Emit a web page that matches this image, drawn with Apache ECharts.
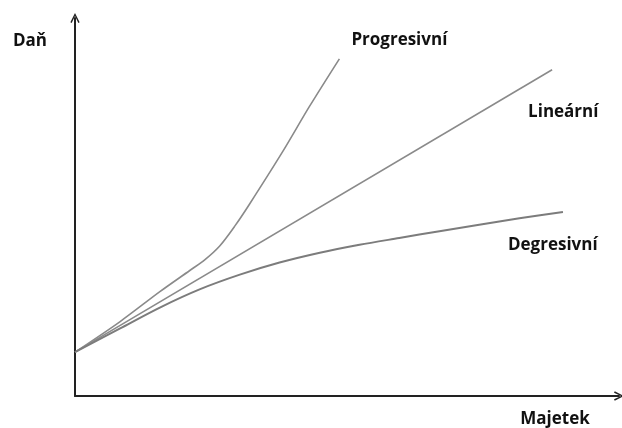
<!DOCTYPE html>
<html>
<head>
<meta charset="utf-8">
<script src="https://cdn.jsdelivr.net/npm/echarts@6/dist/echarts.min.js"></script>
<style>
html,body{margin:0;padding:0;background:#fff;}
#chart{width:622px;height:428px;}
</style>
</head>
<body>
<div id="chart"></div>
<script>
// Data (arbitrary units: Majetek 0-100, Daň 0-100)
const seriesNames = ['Progresivní', 'Lineární', 'Degresivní'];
const axisNames = ['Majetek', 'Daň'];

const majetekProg = [0, 8.3, 15.6, 21.1, 23.9, 26.6, 29.4, 32.1, 38.2, 43.1, 48.6];
const danProg     = [11.6, 19.7, 27.6, 33.2, 36.1, 39.7, 45.0, 50.8, 64.7, 76.6, 89.2];

const majetekLin = [0, 87.7];
const danLin     = [11.6, 86.3];

const majetekDeg = [0, 8.3, 15.6, 22.9, 30.3, 37.6, 45.0, 52.3, 59.6, 67.0, 74.3, 81.7, 89.7];
const danDeg     = [11.6, 17.9, 23.4, 28.2, 32.1, 35.3, 37.9, 40.0, 41.8, 43.6, 45.3, 47.0, 48.7];

const zip = (xs, ys) => xs.map((x, i) => [x, ys[i]]);

const chart = echarts.init(document.getElementById('chart'));
const arrowPath = 'path://M0,10 L5,0 L10,10 L8.6,10.8 L5,3.2 L1.4,10.8 Z';
const labelFont = {fontFamily: 'Open Sans', fontWeight: 'bold', fontSize: 17, color: '#111'};

function mk(name, data, smooth, offset, color, width) {
  return {
    name: name, type: 'line', data: data, smooth: smooth,
    showSymbol: false, symbol: 'none', silent: true,
    lineStyle: {color: color, width: width},
    endLabel: Object.assign({show: true, formatter: '{a}', offset: offset}, labelFont)
  };
}

chart.setOption({
  animation: false,
  grid: {left: 75, right: 3, top: 18, bottom: 32},
  xAxis: {
    type: 'value', min: 0, max: 100,
    name: axisNames[0], nameLocation: 'end', nameGap: -64,
    nameTextStyle: Object.assign({align: 'center', verticalAlign: 'top', padding: [15, 0, 0, 0]}, labelFont),
    axisLine: {show: true, symbol: ['none', arrowPath], symbolSize: [10, 10], lineStyle: {color: '#222', width: 2}},
    axisTick: {show: false}, axisLabel: {show: false}, splitLine: {show: false}
  },
  yAxis: {
    type: 'value', min: 0, max: 100,
    name: axisNames[1], nameLocation: 'end', nameGap: -23,
    nameTextStyle: Object.assign({align: 'right', verticalAlign: 'middle', padding: [0, 28, 0, 0]}, labelFont),
    axisLine: {show: true, symbol: ['none', arrowPath], symbolSize: [10, 10], lineStyle: {color: '#222', width: 2}},
    axisTick: {show: false}, axisLabel: {show: false}, splitLine: {show: false}
  },
  series: [
    mk(seriesNames[0], zip(majetekProg, danProg), 0.3, [4, -19], '#8a8a8a', 1.6),
    mk(seriesNames[1], zip(majetekLin, danLin), false, [-32, 42], '#8a8a8a', 1.6),
    mk(seriesNames[2], zip(majetekDeg, danDeg), 0.3, [-63, 33], '#7c7c7c', 2)
  ]
});
</script>
</body>
</html>
